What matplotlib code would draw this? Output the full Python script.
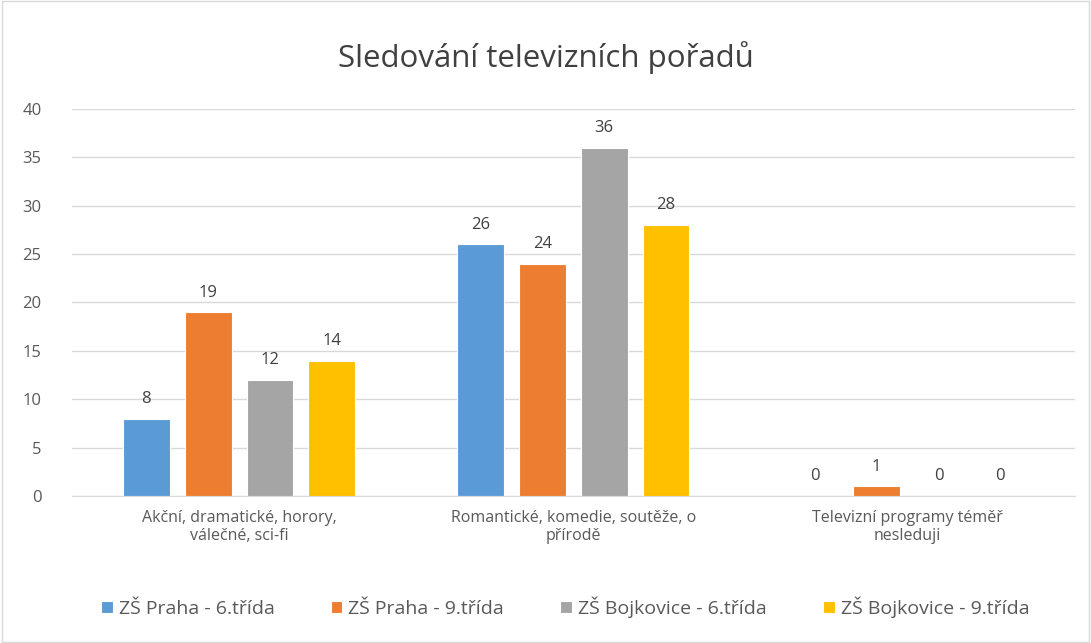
import numpy as np
import matplotlib
matplotlib.use("Agg")
import matplotlib.pyplot as plt
from matplotlib.patches import Rectangle

categories = ["Akční, dramatické, horory,\nválečné, sci-fi",
              "Romantické, komedie, soutěže, o\npřírodě",
              "Televizní programy téměř\nnesleduji"]
series_names = ["ZŠ Praha - 6.třída", "ZŠ Praha - 9.třída",
                "ZŠ Bojkovice - 6.třída", "ZŠ Bojkovice - 9.třída"]
praha6 = [8, 26, 0]
praha9 = [19, 24, 1]
bojk6 = [12, 36, 0]
bojk9 = [14, 28, 0]
yticks = [0, 5, 10, 15, 20, 25, 30, 35, 40]

colors = ["#5B9BD5", "#ED7D31", "#A5A5A5", "#FFC000"]
text_col = "#595959"

plt.rcParams['font.family'] = ['Open Sans', 'DejaVu Sans']

fig = plt.figure(figsize=(10.91, 6.43), dpi=100)
fig.patches.append(Rectangle((0.002, 0.002), 0.996, 0.996, transform=fig.transFigure,
                             fill=False, edgecolor="#D9D9D9", linewidth=1))
ax = fig.add_axes([0.066, 0.2286, 0.919, 0.6019])

x = np.arange(len(categories))
width = 0.14
step = 0.185
all_series = [praha6, praha9, bojk6, bojk9]
for i, vals in enumerate(all_series):
    pos = x + (i - 1.5) * step
    ax.bar(pos, vals, width, color=colors[i], edgecolor="white",
           linewidth=0.8, label=series_names[i], zorder=3)
    for xp, v in zip(pos, vals):
        ax.text(xp, v + 1.2, str(v), ha="center", va="bottom",
                fontsize=12, color="#404040")

ax.set_xlim(-0.5, 2.5)
ax.set_ylim(0, 40)
ax.set_yticks(yticks)
ax.yaxis.grid(True, color="#D9D9D9", linewidth=1, zorder=0)
ax.set_axisbelow(True)
for s in ["top", "right", "left"]:
    ax.spines[s].set_visible(False)
ax.spines["bottom"].set_color("#D9D9D9")
ax.tick_params(axis="y", length=0, labelsize=12, labelcolor=text_col, pad=22)
ax.tick_params(axis="x", length=0, labelsize=11.5, labelcolor=text_col, pad=10)
ax.set_xticks(x)
ax.set_xticklabels(categories)

fig.text(0.5, 0.91, "Sledování televizních pořadů", ha="center", va="center",
         fontsize=22.5, color="#404040")

fig.legend(loc="center", bbox_to_anchor=(0.518, 0.056), ncol=4, frameon=False,
           fontsize=14, labelcolor=text_col, handlelength=0.6, handleheight=0.6,
           columnspacing=2.9, handletextpad=0.3)

fig.savefig("out.png", dpi=100)
